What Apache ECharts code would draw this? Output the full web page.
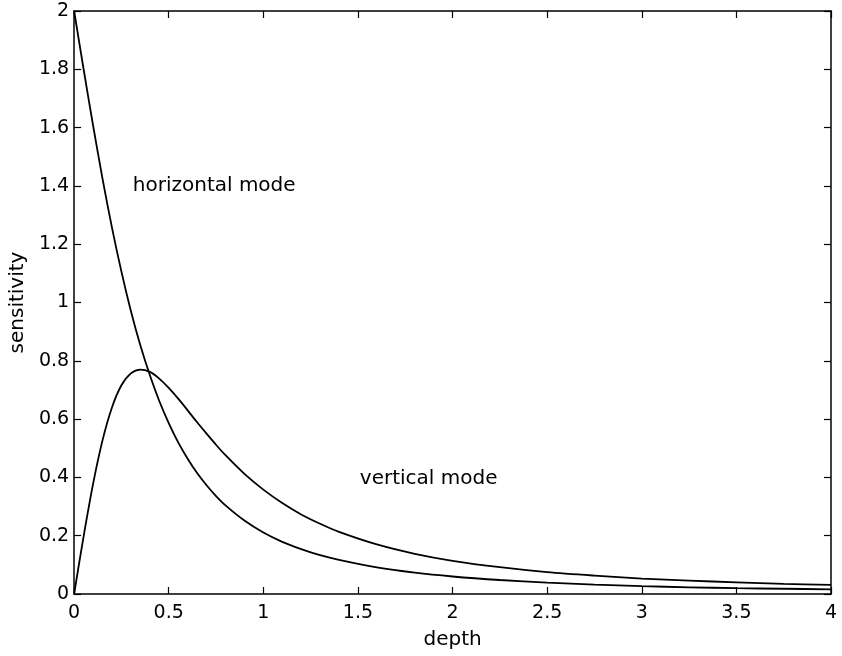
<!DOCTYPE html>
<html>
<head>
<meta charset="utf-8">
<script src="https://cdn.jsdelivr.net/npm/echarts@6/dist/echarts.min.js"></script>
<style>
  html, body { margin: 0; padding: 0; background: #fff; }
  #chart { width: 842px; height: 656px; }
</style>
</head>
<body>
<div id="chart"></div>
<script>
// Sensitivity vs. depth for the two coil orientations
const depth = [0, 0.05, 0.1, 0.15, 0.2, 0.25, 0.3, 0.35, 0.4, 0.45, 0.5, 0.55, 0.6, 0.65, 0.7,
  0.75, 0.8, 0.9, 1.0, 1.1, 1.2, 1.3, 1.4, 1.6, 1.8, 2.0, 2.25, 2.5, 2.75, 3.0, 3.25, 3.5, 3.75, 4.0];
const horizontalMode = [2.0, 1.801, 1.608, 1.425, 1.257, 1.106, 0.971, 0.853, 0.751, 0.662, 0.586,
  0.520, 0.464, 0.415, 0.373, 0.336, 0.304, 0.252, 0.211, 0.179, 0.154, 0.133, 0.117, 0.091,
  0.073, 0.060, 0.048, 0.039, 0.032, 0.027, 0.023, 0.020, 0.018, 0.016];
const verticalMode = [0, 0.197, 0.377, 0.527, 0.640, 0.716, 0.757, 0.770, 0.762, 0.739, 0.707,
  0.670, 0.630, 0.589, 0.550, 0.512, 0.476, 0.412, 0.358, 0.312, 0.273, 0.241, 0.213, 0.170,
  0.138, 0.114, 0.092, 0.075, 0.063, 0.053, 0.046, 0.040, 0.035, 0.031];

const xTicks = { min: 0, max: 4, step: 0.5 };
const yTicks = { min: 0, max: 2, step: 0.2 };

// Text labels placed in data coordinates (left edge, vertical centre)
const annotations = [
  { text: 'horizontal mode', at: [0.31, 1.40] },
  { text: 'vertical mode', at: [1.51, 0.395] }
];

const FONT = '"DejaVu Sans", sans-serif';
const axisLine = { show: true, onZero: false, lineStyle: { color: '#000', width: 1.5 } };
const ticksIn = { show: true, inside: true, length: 7, lineStyle: { color: '#000', width: 1.2 } };
const tickLabel = { color: '#000', fontFamily: FONT, fontSize: 19 };

const chart = echarts.init(document.getElementById('chart'), null, { renderer: 'canvas' });

const pairs = arr => depth.map((d, i) => [d, arr[i]]);

chart.setOption({
  animation: false,
  backgroundColor: '#fff',
  grid: { left: 72, right: 11, top: 11, bottom: 62 },
  xAxis: [
    {
      type: 'value', position: 'bottom', min: xTicks.min, max: xTicks.max, interval: xTicks.step,
      axisLine, axisTick: ticksIn, splitLine: { show: false },
      axisLabel: Object.assign({ margin: 10 }, tickLabel),
      name: 'depth', nameLocation: 'middle', nameGap: 36,
      nameTextStyle: { color: '#000', fontFamily: FONT, fontSize: 20 }
    },
    {
      type: 'value', position: 'top', min: xTicks.min, max: xTicks.max, interval: xTicks.step,
      axisLine, axisTick: ticksIn, axisLabel: { show: false }, splitLine: { show: false }
    }
  ],
  yAxis: [
    {
      type: 'value', position: 'left', min: yTicks.min, max: yTicks.max, interval: yTicks.step,
      axisLine, axisTick: ticksIn, splitLine: { show: false },
      axisLabel: Object.assign({ margin: 5, formatter: v => String(+v.toFixed(1)) }, tickLabel),
      name: 'sensitivity', nameLocation: 'middle', nameGap: 42,
      nameTextStyle: { color: '#000', fontFamily: FONT, fontSize: 20 }
    },
    {
      type: 'value', position: 'right', min: yTicks.min, max: yTicks.max, interval: yTicks.step,
      axisLine, axisTick: ticksIn, axisLabel: { show: false }, splitLine: { show: false }
    }
  ],
  series: [
    {
      name: 'horizontal mode', type: 'line', smooth: 0.3, showSymbol: false,
      xAxisIndex: 0, yAxisIndex: 0,
      lineStyle: { color: '#000', width: 1.8 }, data: pairs(horizontalMode)
    },
    {
      name: 'vertical mode', type: 'line', smooth: 0.3, showSymbol: false,
      xAxisIndex: 0, yAxisIndex: 0,
      lineStyle: { color: '#000', width: 1.8 }, data: pairs(verticalMode)
    }
  ]
});

chart.setOption({
  graphic: annotations.map(a => {
    const p = chart.convertToPixel({ xAxisIndex: 0, yAxisIndex: 0 }, a.at);
    return {
      type: 'text', x: p[0], y: p[1],
      style: {
        text: a.text, fill: '#000', font: '20px ' + FONT,
        textAlign: 'left', textVerticalAlign: 'middle'
      }
    };
  })
});
</script>
</body>
</html>
